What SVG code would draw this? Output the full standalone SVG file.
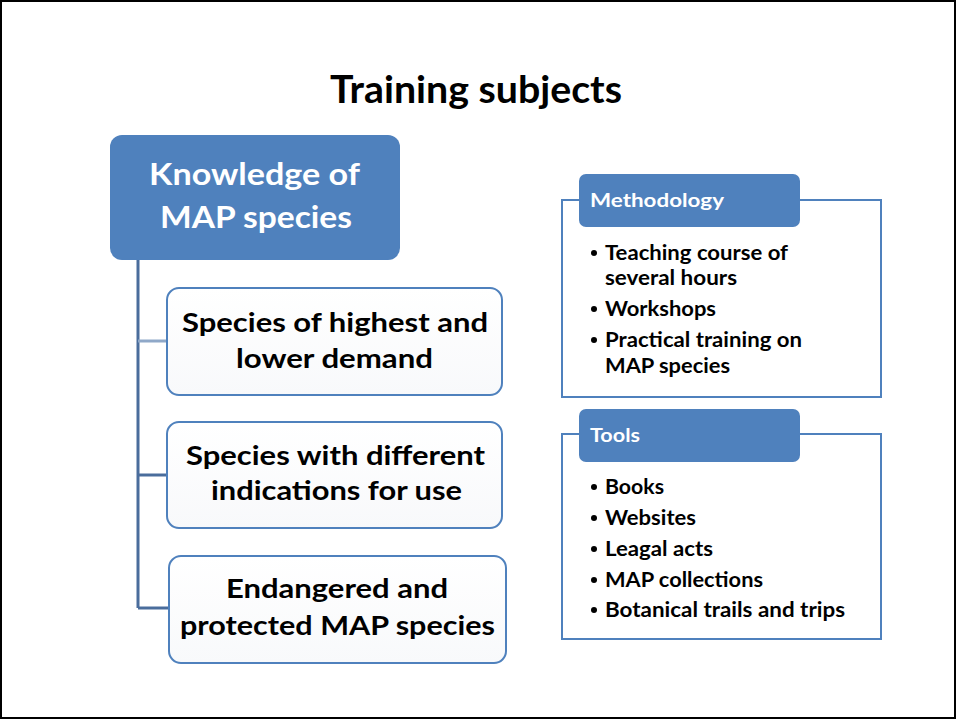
<svg xmlns="http://www.w3.org/2000/svg" width="957" height="720" viewBox="0 0 957 720">
<style>
  text { font-family: Lato, "Liberation Sans", sans-serif; font-weight: bold; }
  .title { font-size: 38px; fill: #000; }
  .main { font-size: 31px; fill: #fff; }
  .child { font-size: 27px; fill: #000; }
  .hdr { font-size: 19px; fill: #fff; }
  .item { font-size: 20px; fill: #000; }
  .box { fill: url(#childGrad); stroke: #4F81BD; stroke-width: 2; }
  .panel { fill: #fff; stroke: #4F81BD; stroke-width: 2; }
  .head { fill: #4F81BD; }
  .conn { stroke: #4A6D9C; stroke-width: 3; fill: none; }
  .bullet { fill: #000; }
</style>
<defs>
  <linearGradient id="childGrad" x1="0" y1="0" x2="0" y2="1">
    <stop offset="0" stop-color="#ffffff"/>
    <stop offset="1" stop-color="#f8f9fb"/>
  </linearGradient>
</defs>
<rect x="0" y="0" width="957" height="720" fill="#fff"/>
<rect x="1" y="1" width="954" height="717" fill="none" stroke="#000" stroke-width="2"/>

<text class="title" x="476" y="103" text-anchor="middle" textLength="292" lengthAdjust="spacingAndGlyphs">Training subjects</text>

<g id="connectors">
  <path class="conn" d="M138 260 V608"/>
  <path d="M138 341 H168" stroke="#8FA8C8" stroke-width="3" fill="none"/>
  <path class="conn" d="M138 475 H168"/>
  <path class="conn" d="M138 608 H170"/>
</g>

<g id="main">
  <rect class="head" x="110" y="135" width="290" height="125" rx="12"/>
  <text class="main" x="254.5" y="185" text-anchor="middle" textLength="211" lengthAdjust="spacingAndGlyphs">Knowledge of</text>
  <text class="main" x="256" y="228" text-anchor="middle" textLength="192" lengthAdjust="spacingAndGlyphs">MAP species</text>
</g>

<g id="child1">
  <rect class="box" x="167" y="288" width="335" height="107" rx="12"/>
  <text class="child" x="335" y="332" text-anchor="middle" textLength="306" lengthAdjust="spacingAndGlyphs">Species of highest and</text>
  <text class="child" x="334.5" y="368" text-anchor="middle" textLength="197" lengthAdjust="spacingAndGlyphs">lower demand</text>
</g>

<g id="child2">
  <rect class="box" x="167" y="422" width="335" height="106" rx="12"/>
  <text class="child" x="335.5" y="465" text-anchor="middle" textLength="299" lengthAdjust="spacingAndGlyphs">Species with different</text>
  <text class="child" x="336.5" y="500" text-anchor="middle" textLength="251" lengthAdjust="spacingAndGlyphs">indications for use</text>
</g>

<g id="child3">
  <rect class="box" x="169" y="556" width="337" height="107" rx="12"/>
  <text class="child" x="337" y="598" text-anchor="middle" textLength="222" lengthAdjust="spacingAndGlyphs">Endangered and</text>
  <text class="child" x="337.5" y="635" text-anchor="middle" textLength="315" lengthAdjust="spacingAndGlyphs">protected MAP species</text>
</g>

<g id="methodology">
  <rect class="panel" x="562" y="200" width="319" height="197"/>
  <rect class="head" x="579" y="174" width="221" height="53" rx="7"/>
  <text class="hdr" x="590" y="207" textLength="134" lengthAdjust="spacingAndGlyphs">Methodology</text>
  <circle class="bullet" cx="594" cy="253" r="3"/>
  <text class="item" x="605" y="260" textLength="183" lengthAdjust="spacingAndGlyphs">Teaching course of</text>
  <text class="item" x="605" y="285" textLength="132" lengthAdjust="spacingAndGlyphs">several hours</text>
  <circle class="bullet" cx="594" cy="309" r="3"/>
  <text class="item" x="605" y="316" textLength="111" lengthAdjust="spacingAndGlyphs">Workshops</text>
  <circle class="bullet" cx="594" cy="340" r="3"/>
  <text class="item" x="605" y="347" textLength="197" lengthAdjust="spacingAndGlyphs">Practical training on</text>
  <text class="item" x="605" y="373" textLength="125" lengthAdjust="spacingAndGlyphs">MAP species</text>
</g>

<g id="tools">
  <rect class="panel" x="562" y="434" width="319" height="205"/>
  <rect class="head" x="579" y="409" width="221" height="53" rx="7"/>
  <text class="hdr" x="590" y="442" textLength="50" lengthAdjust="spacingAndGlyphs">Tools</text>
  <circle class="bullet" cx="594" cy="487" r="3"/>
  <text class="item" x="605" y="494" textLength="59" lengthAdjust="spacingAndGlyphs">Books</text>
  <circle class="bullet" cx="594" cy="518" r="3"/>
  <text class="item" x="605" y="525" textLength="91" lengthAdjust="spacingAndGlyphs">Websites</text>
  <circle class="bullet" cx="594" cy="549" r="3"/>
  <text class="item" x="605" y="556" textLength="108" lengthAdjust="spacingAndGlyphs">Leagal acts</text>
  <circle class="bullet" cx="594" cy="580" r="3"/>
  <text class="item" x="605" y="587" textLength="158" lengthAdjust="spacingAndGlyphs">MAP collections</text>
  <circle class="bullet" cx="594" cy="610" r="3"/>
  <text class="item" x="605" y="617" textLength="240" lengthAdjust="spacingAndGlyphs">Botanical trails and trips</text>
</g>
</svg>
